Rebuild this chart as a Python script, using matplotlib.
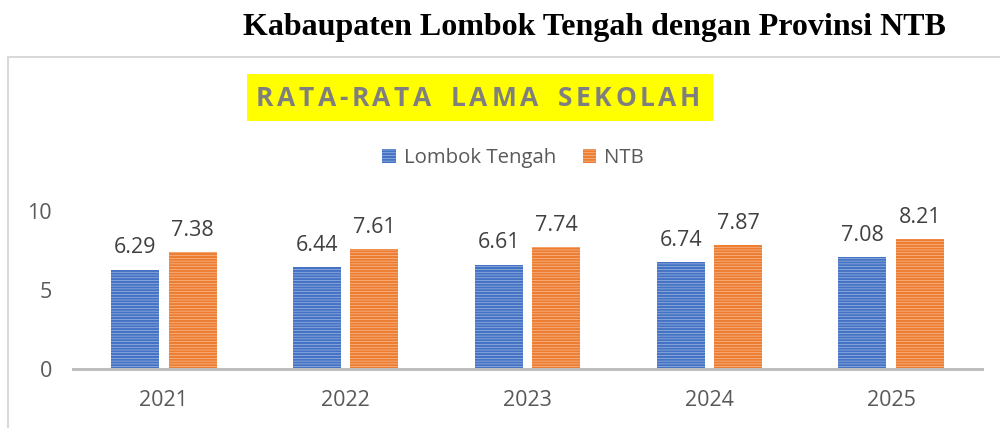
import matplotlib
matplotlib.use('Agg')
import matplotlib.pyplot as plt
from matplotlib.patches import Rectangle, Patch
import numpy as np

years = ['2021', '2022', '2023', '2024', '2025']
lombok_tengah = [6.29, 6.44, 6.61, 6.74, 7.08]
ntb = [7.38, 7.61, 7.74, 7.87, 8.21]

BLUE_DARK = '#4472C4'
BLUE_LIGHT = '#b4c7e7'
ORANGE_DARK = '#ED7D31'
ORANGE_LIGHT = '#f8cbad'
GRAY_TXT = '#595959'

plt.rcParams['font.family'] = ['Open Sans', 'DejaVu Sans']
plt.rcParams['hatch.linewidth'] = 1.6

fig = plt.figure(figsize=(10, 4.28), dpi=100)
ax = fig.add_axes([0.073, 0.138, 0.909, 0.369])

x = np.arange(len(years))
w = 0.264
off = 0.158
b1 = ax.bar(x - off, lombok_tengah, w, facecolor=BLUE_LIGHT, edgecolor=BLUE_DARK,
            linewidth=0, hatch='------')
b2 = ax.bar(x + off, ntb, w, facecolor=ORANGE_LIGHT, edgecolor=ORANGE_DARK,
            linewidth=0, hatch='------')

for bars, vals in ((b1, lombok_tengah), (b2, ntb)):
    for rect, v in zip(bars, vals):
        ax.annotate(f'{v:.2f}', (rect.get_x() + rect.get_width() / 2, v),
                    xytext=(0, 8), textcoords='offset points',
                    ha='center', va='bottom', fontsize=15.5, color='#404040')

ax.set_xlim(-0.5, len(years) - 0.5)
ax.set_ylim(0, 10)
ax.set_yticks([0, 5, 10])
ax.set_xticks(x)
ax.set_xticklabels(years)
ax.tick_params(axis='both', length=0, labelsize=15.5, labelcolor=GRAY_TXT)
ax.tick_params(axis='y', pad=15)
ax.tick_params(axis='x', pad=15)
for s in ('top', 'right', 'left'):
    ax.spines[s].set_visible(False)
ax.spines['bottom'].set_color('#bfbfbf')
ax.spines['bottom'].set_linewidth(2.2)
ax.patch.set_alpha(0)

# chart frame
fig.patches.append(Rectangle((0.008, -0.2), 1.2, 0.2 + 1 - 57 / 428,
                             transform=fig.transFigure, fill=False,
                             edgecolor='#d9d9d9', linewidth=1.5))

# yellow title box
fig.patches.append(Rectangle((0.247, 1 - 121 / 428), 0.466, 47 / 428,
                             transform=fig.transFigure, facecolor='#ffff00',
                             edgecolor='none'))

# letter-spaced chart title, spread over 256..700 px
title = 'RATA-RATA LAMA SEKOLAH'
renderer = fig.canvas.get_renderer()
props = dict(fontsize=19, fontweight='bold', color='#7f7f7f', va='center')
words = title.split(' ')
word_gap = 20.0
char_w = []
for word in words:
    ws = []
    for ch in word:
        t = fig.text(0, 0, ch, **props)
        ws.append(t.get_window_extent(renderer).width)
        t.remove()
    char_w.append(ws)
letters_total = sum(sum(ws) for ws in char_w)
pairs = sum(len(ws) - 1 for ws in char_w)
gap = (444 - letters_total - word_gap * (len(words) - 1)) / pairs
xpos = 256.0
ty = 1 - 98 / 428
for word, ws in zip(words, char_w):
    for ch, wd in zip(word, ws):
        fig.text(xpos / 1000, ty, ch, ha='left', **props)
        xpos += wd + gap
    xpos += word_gap - gap

fig.text(0.594, 1 - 28 / 428, 'Kabaupaten Lombok Tengah dengan Provinsi NTB',
         ha='center', va='center', fontsize=23, fontweight='bold',
         family='Liberation Serif', color='black')

handles = [Patch(facecolor=BLUE_LIGHT, edgecolor=BLUE_DARK, linewidth=0, hatch='------'),
           Patch(facecolor=ORANGE_LIGHT, edgecolor=ORANGE_DARK, linewidth=0, hatch='------')]
fig.legend(handles, ['Lombok Tengah', 'NTB'], loc='center', ncol=2,
           bbox_to_anchor=(0.513, 1 - 158 / 428), frameon=False, fontsize=14.7,
           labelcolor=GRAY_TXT, handlelength=0.65, handleheight=0.65,
           handletextpad=0.4, columnspacing=1.3)

fig.savefig('out.png', dpi=100)
